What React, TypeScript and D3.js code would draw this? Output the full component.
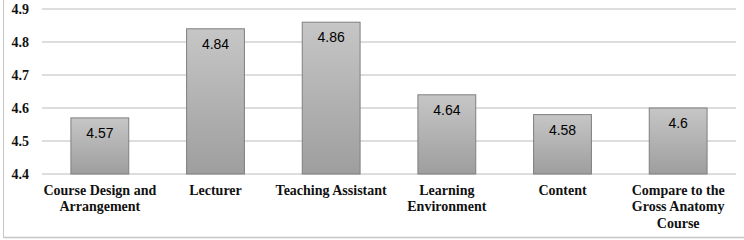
import React from 'react';
import * as d3 from 'd3';

// chart data
const categories = [
    ['Course Design and', 'Arrangement'],
    ['Lecturer'],
    ['Teaching Assistant'],
    ['Learning', 'Environment'],
    ['Content'],
    ['Compare to the', 'Gross Anatomy', 'Course'],
];
const scores = [4.57, 4.84, 4.86, 4.64, 4.58, 4.6];
const yTicks = [4.4, 4.5, 4.6, 4.7, 4.8, 4.9];

const width = 744;
const height = 240;
const serif = 'Liberation Serif, Times New Roman, DejaVu Serif, serif';
const sans = 'Liberation Sans, Arial, sans-serif';

const App = () => {
    const x = d3.scaleBand<number>()
        .domain(d3.range(scores.length))
        .range([42, 736])
        .paddingInner(0.5)
        .paddingOuter(0.25);
    const y = d3.scaleLinear().domain([4.4, 4.9]).range([174, 9]);

    return (
        <svg width={width} height={height}
            style={{ position: 'absolute', left: 0, top: 0, background: '#fff' }}>
            <defs>
                <linearGradient id="barFill" x1="0" y1="0" x2="0" y2="1">
                    <stop offset="0%" stopColor="#c6c6c6" />
                    <stop offset="100%" stopColor="#9e9e9e" />
                </linearGradient>
            </defs>
            {/* outer frame */}
            <line x1={3.5} x2={3.5} y1={0} y2={237.5} stroke="#c4c4c4" strokeWidth={1} />
            <line x1={3.5} x2={744} y1={237.5} y2={237.5} stroke="#c4c4c4" strokeWidth={1.5} />

            {/* grid + y labels */}
            {yTicks.map(t => (
                <g key={t}>
                    <line x1={42} x2={736} y1={y(t)} y2={y(t)} stroke="#d2d2d2" strokeWidth={1.5} />
                    <text x={29} y={y(t)} dy="0.35em" textAnchor="end"
                        style={{ fontFamily: serif, fontWeight: 'bold', fontSize: 14 }}
                        fill="#111">{d3.format('.1f')(t)}</text>
                </g>
            ))}

            {/* bars */}
            {scores.map((v, i) => (
                <g key={i}>
                    <rect x={x(i)} y={y(v)} width={x.bandwidth()} height={y(4.4) - y(v)}
                        fill="url(#barFill)" stroke="#7f7f7f" strokeWidth={1} />
                    <text x={(x(i) ?? 0) + x.bandwidth() / 2} y={y(v) + 20} textAnchor="middle"
                        style={{ fontFamily: sans, fontSize: 14 }}
                        fill="#000">{String(v)}</text>
                </g>
            ))}

            {/* x labels */}
            {categories.map((lines, i) => (
                <text key={i} textAnchor="middle"
                    style={{ fontFamily: serif, fontWeight: 'bold', fontSize: 14 }}
                    fill="#111">
                    {lines.map((l, j) => (
                        <tspan key={j} x={(x(i) ?? 0) + x.bandwidth() / 2} y={195 + j * 16.3}>{l}</tspan>
                    ))}
                </text>
            ))}
        </svg>
    );
};

export default App;
